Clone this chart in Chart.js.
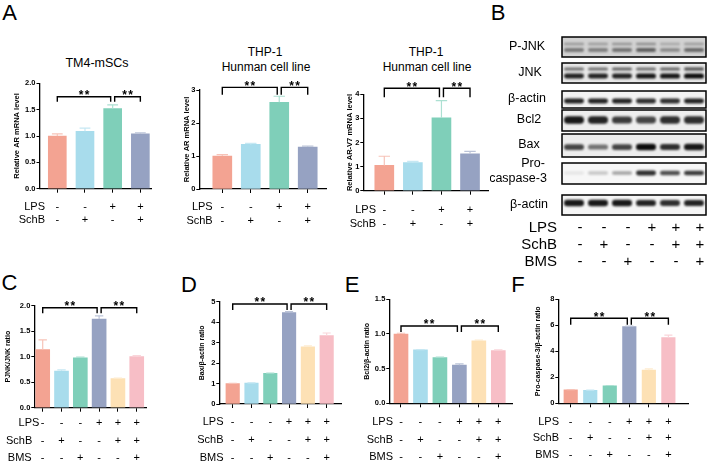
<!DOCTYPE html>
<html>
<head>
<meta charset="utf-8">
<script src="https://cdn.jsdelivr.net/npm/chart.js@4.4.1/dist/chart.umd.min.js"></script>
<style>
  body { margin: 0; width: 708px; height: 464px; background: #fff; position: relative; overflow: hidden;
         font-family: "Liberation Sans", Arial, sans-serif; color: #000; }
  canvas { position: absolute; }
  .txt { position: absolute; white-space: nowrap; line-height: 1; transform: translate(-50%, -50%); }
  .letter { font-size: 22px; }
</style>
</head>
<body>
<div class="txt letter" style="left:9.5px;top:13px">A</div>
<div class="txt letter" style="left:498px;top:13px">B</div>
<div class="txt letter" style="left:9.5px;top:283px">C</div>
<div class="txt letter" style="left:189px;top:285px">D</div>
<div class="txt letter" style="left:352px;top:285px">E</div>
<div class="txt letter" style="left:518px;top:285px">F</div>
<div class="txt" style="left:97px;top:63px;font-size:12.5px">TM4-mSCs</div>
<div class="txt" style="left:265px;top:52px;font-size:12px">THP-1</div>
<div class="txt" style="left:266px;top:67px;font-size:12px">Hunman cell line</div>
<div class="txt" style="left:426px;top:52px;font-size:12px">THP-1</div>
<div class="txt" style="left:427px;top:67px;font-size:12px">Hunman cell line</div>

<script>
const FONT = '"Liberation Sans", Arial, sans-serif';

// treatment rows
const lpsA = ['-', '-', '+', '+'];
const schbA = ['-', '+', '-', '+'];
const lps6 = ['-', '-', '-', '+', '+', '+'];
const schb6 = ['-', '+', '-', '-', '+', '+'];
const bms6 = ['-', '-', '+', '-', '-', '+'];

// panel A
const tm4Values = [1.0, 1.09, 1.52, 1.04];
const tm4Errors = [0.04, 0.06, 0.07, 0.02];
const tm4Ticks = [0, 0.5, 1.0, 1.5, 2.0];
const thpArValues = [1.0, 1.35, 2.63, 1.27];
const thpArErrors = [0.04, 0.03, 0.18, 0.03];
const thpArTicks = [0, 1, 2, 3];
const thpV7Values = [1.05, 1.17, 3.02, 1.53];
const thpV7Errors = [0.38, 0.05, 0.72, 0.10];
const thpV7Ticks = [0, 1, 2, 3, 4];

// panels C-F
const pjnkValues = [1.14, 0.72, 0.98, 1.74, 0.57, 1.0];
const pjnkErrors = [0.19, 0.02, 0.01, 0.06, 0.01, 0.02];
const pjnkTicks = [0, 0.5, 1.0, 1.5, 2.0];
const baxValues = [1.0, 1.02, 1.5, 4.47, 2.8, 3.35];
const baxErrors = [0.01, 0.01, 0.01, 0.05, 0.04, 0.12];
const baxTicks = [0, 1, 2, 3, 4, 5];
const bcl2Values = [1.0, 0.77, 0.66, 0.55, 0.9, 0.76];
const bcl2Errors = [0.01, 0.005, 0.005, 0.02, 0.01, 0.01];
const bcl2Ticks = [0, 0.5, 1.0, 1.5];
const procasValues = [1.03, 1.0, 1.35, 5.9, 2.55, 5.05];
const procasErrors = [0.02, 0.02, 0.02, 0.04, 0.1, 0.2];
const procasTicks = [0, 2, 4, 6, 8];

const colorsA = ['#f3a392', '#a8dcec', '#7fcfb9', '#96a2c2'];
const colors6 = ['#f3a392', '#a8dcec', '#7fcfb9', '#96a2c2', '#fde1b5', '#f7bec6'];

// panel B blot (band darkness per lane)
const blotLanes = [1, 2, 3, 4, 5, 6];
const blotNames = ['P-JNK', 'JNK', 'β-actin', 'Bcl2', 'Bax', 'Pro-|caspase-3', 'β-actin'];
const bandPJNK = [[0.3, 0.28, 0.32, 0.35, 0.22, 0.28], [0.45, 0.42, 0.48, 0.58, 0.38, 0.52]];
const bandJNK = [[0.55, 0.55, 0.6, 0.55, 0.6, 0.65], [0.9, 0.9, 0.9, 0.95, 0.95, 1.0]];
const bandActin1 = [[0.9, 0.9, 0.9, 0.85, 0.85, 0.9]];
const bandBcl2 = [[0.95, 0.9, 0.8, 0.75, 0.85, 0.85]];
const bandBax = [[0.75, 0.55, 0.75, 1.0, 0.85, 0.95]];
const bandProCasp = [[0.08, 0.2, 0.35, 0.85, 0.7, 0.8]];
const bandActin2 = [[0.95, 0.95, 0.95, 0.9, 0.85, 0.9]];
const blotDark = [bandPJNK, bandJNK, bandActin1, bandBcl2, bandBax, bandProCasp, bandActin2];

function errShade(hex) {
  const n = parseInt(hex.slice(1), 16);
  const m = c => Math.round(c + (255 - c) * 0.35);
  return `rgb(${m(n >> 16)},${m((n >> 8) & 255)},${m(n & 255)})`;
}

function annot(p) {
  return {
    id: 'annot',
    afterDraw(chart) {
      const { ctx, scales: { x, y } } = chart;
      const [bx, by] = p.box;
      const bars = chart.getDatasetMeta(0).data;
      ctx.save();
      // error whiskers
      ctx.lineWidth = 1.2;
      p.errors.forEach((e, i) => {
        const b = bars[i];
        const top = y.getPixelForValue(p.values[i] + e);
        const half = p.barW * 0.3;
        ctx.strokeStyle = errShade(p.colors[i]);
        ctx.beginPath();
        ctx.moveTo(b.x, b.y); ctx.lineTo(b.x, top);
        ctx.moveTo(b.x - half, top); ctx.lineTo(b.x + half, top);
        ctx.stroke();
      });
      // brackets + stars
      const sy = y.getPixelForValue(p.sigY);
      ctx.strokeStyle = '#000'; ctx.fillStyle = '#000'; ctx.lineWidth = 1.4;
      ctx.font = `bold 12px ${FONT}`;
      ctx.textAlign = 'center'; ctx.textBaseline = 'alphabetic';
      p.pairs.forEach(([a, c], k) => {
        let x1 = x.getPixelForValue(a), x2 = x.getPixelForValue(c);
        if (k === 0) x2 -= 2; else x1 += 2;
        ctx.beginPath();
        ctx.moveTo(x1, sy + p.drop); ctx.lineTo(x1, sy); ctx.lineTo(x2, sy); ctx.lineTo(x2, sy + p.drop);
        ctx.stroke();
        const mx = (x1 + x2) / 2;
        ctx.fillText('*', mx - 3, sy + 2.5);
        ctx.fillText('*', mx + 3, sy + 2.5);
      });
      // treatment rows
      ctx.font = `11px ${FONT}`; ctx.textBaseline = 'middle';
      p.rows.forEach(([name, signs], r) => {
        const ry = p.rowY[r] - by;
        ctx.textAlign = 'right';
        ctx.fillText(name, p.labelX[r] - bx, ry);
        ctx.textAlign = 'center';
        signs.forEach((s, i) => ctx.fillText(s, x.getPixelForValue(i + 1), ry));
      });
      ctx.restore();
    }
  };
}

function drawBarPanel(p) {
  const [bx, by, bw, bh] = p.box;
  const cv = document.createElement('canvas');
  cv.width = bw; cv.height = bh;
  cv.style.left = bx + 'px'; cv.style.top = by + 'px';
  document.body.appendChild(cv);
  const lh = p.titleSize * 1.2;
  const padLeft = p.titleX - bx - lh / 2;
  const yW = p.axisX - bx - padLeft;
  const xH = by + bh - p.y0;
  new Chart(cv, {
    type: 'bar',
    data: {
      datasets: [{
        data: p.values.map((v, i) => ({ x: i + 1, y: v })),
        backgroundColor: p.colors, borderWidth: 0, barThickness: p.barW
      }]
    },
    options: {
      responsive: false, animation: false, devicePixelRatio: 1,
      layout: { padding: { left: padLeft, top: p.yTop - by, right: bx + bw - p.xEnd, bottom: 0 } },
      plugins: { legend: { display: false }, tooltip: { enabled: false } },
      scales: {
        x: {
          type: 'linear', min: p.xMin, max: p.xMax, offset: false, z: 1,
          grid: { offset: false, drawOnChartArea: false, tickLength: 4, color: '#000', lineWidth: 1 },
          border: { color: '#000', width: 1.3 },
          ticks: { display: false },
          afterBuildTicks: s => { s.ticks = p.values.map((v, i) => ({ value: i + 1 })); },
          afterFit: s => { s.height = xH; }
        },
        y: {
          min: 0, max: p.ticks[p.ticks.length - 1], z: 1,
          grid: { drawOnChartArea: false, tickLength: 3, color: '#000', lineWidth: 1 },
          border: { color: '#000', width: 1.3 },
          ticks: { color: '#000', padding: 1, font: { size: 7.5, weight: 'bold', family: FONT },
                   callback: v => v.toFixed(p.dec) },
          afterBuildTicks: s => { s.ticks = p.ticks.map(v => ({ value: v })); },
          title: { display: true, text: p.yTitle, color: '#000', padding: 0,
                   font: { size: p.titleSize, weight: 'bold', family: FONT } },
          afterFit: s => { s.width = yW; }
        }
      }
    },
    plugins: [annot(p)]
  });
}

const pairsA = [[1, 3], [3, 4]];
const pairs6 = [[1, 4], [4, 6]];

[
  { values: tm4Values, errors: tm4Errors, ticks: tm4Ticks, dec: 1, colors: colorsA,
    yTitle: 'Relative AR mRNA level', titleSize: 7.5, sigY: 1.745, drop: 5, pairs: pairsA,
    rows: [['LPS', lpsA], ['SchB', schbA]], rowY: [206.7, 220], labelX: [45, 45],
    box: [0, 70, 165, 165], axisX: 39.5, xEnd: 151.7, yTop: 83.3, y0: 188.7,
    xMin: 0.357, xMax: 4.41, titleX: 16.7, barW: 18 },
  { values: thpArValues, errors: thpArErrors, ticks: thpArTicks, dec: 0, colors: colorsA,
    yTitle: 'Relative AR mRNA level', titleSize: 7.5, sigY: 3.08, drop: 7.5, pairs: pairsA,
    rows: [['LPS', lpsA], ['SchB', schbA]], rowY: [206.7, 221], labelX: [212.7, 212.7],
    box: [165, 70, 170, 165], axisX: 199.3, xEnd: 326.7, yTop: 90, y0: 189,
    xMin: 0.192, xMax: 4.667, titleX: 187.3, barW: 19 },
  { values: thpV7Values, errors: thpV7Errors, ticks: thpV7Ticks, dec: 0, colors: colorsA,
    yTitle: 'Relative AR-V7 mRNA level', titleSize: 7.5, sigY: 4.25, drop: 9, pairs: pairsA,
    rows: [['LPS', lpsA], ['SchB', schbA]], rowY: [210, 224], labelX: [376, 376],
    box: [335, 70, 160, 165], axisX: 363.3, xEnd: 488.3, yTop: 94.3, y0: 190.7,
    xMin: 0.265, xMax: 4.64, titleX: 349.7, barW: 19 },
  { values: pjnkValues, errors: pjnkErrors, ticks: pjnkTicks, dec: 1, colors: colors6,
    yTitle: 'PJNK/JNK ratio', titleSize: 7, sigY: 1.96, drop: 5.5, pairs: pairs6,
    rows: [['LPS', lps6], ['SchB', schb6], ['BMS', bms6]], rowY: [423.3, 441, 458.3], labelX: [39.3, 32.3, 31.7],
    box: [0, 290, 160, 174], axisX: 34.3, xEnd: 146.7, yTop: 305.7, y0: 407.7,
    xMin: 0.553, xMax: 6.53, titleX: 8.3, barW: 14 },
  { values: baxValues, errors: baxErrors, ticks: baxTicks, dec: 0, colors: colors6,
    yTitle: 'Bax/β-actin ratio', titleSize: 7, sigY: 4.89, drop: 6, pairs: pairs6,
    rows: [['LPS', lps6], ['SchB', schb6], ['BMS', bms6]], rowY: [421.7, 440, 458.3], labelX: [223.5, 223.5, 223.5],
    box: [165, 290, 180, 174], axisX: 219.3, xEnd: 341.7, yTop: 301.7, y0: 404,
    xMin: 0.287, xMax: 6.8, titleX: 201.7, barW: 13.5 },
  { values: bcl2Values, errors: bcl2Errors, ticks: bcl2Ticks, dec: 1, colors: colors6,
    yTitle: 'Bcl2/β-actin ratio', titleSize: 7, sigY: 1.115, drop: 6, pairs: pairs6,
    rows: [['LPS', lps6], ['SchB', schb6], ['BMS', bms6]], rowY: [421.7, 440, 456.7], labelX: [393, 393, 393],
    box: [345, 290, 172, 174], axisX: 389.3, xEnd: 512.7, yTop: 299.3, y0: 403.3,
    xMin: 0.399, xMax: 6.74, titleX: 367.3, barW: 14 },
  { values: procasValues, errors: procasErrors, ticks: procasTicks, dec: 0, colors: colors6,
    yTitle: 'Pro-caspase-3/β-actin ratio', titleSize: 7, sigY: 6.54, drop: 6.5, pairs: pairs6,
    rows: [['LPS', lps6], ['SchB', schb6], ['BMS', bms6]], rowY: [421.7, 438.3, 455], labelX: [559, 559, 559],
    box: [520, 290, 188, 174], axisX: 558.3, xEnd: 688.3, yTop: 299.3, y0: 403.3,
    xMin: 0.365, xMax: 7.02, titleX: 538.3, barW: 13.5 }
].forEach(drawBarPanel);

// ---- panel B: blot drawn on a lane scale ----
const blotLayout = [
  { frame: [37, 57], bg: '#d2d2d2', bands: [{ y: 44, h: 3 }, { y: 50, h: 4 }], labelY: [47], labelX: [527] },
  { frame: [63, 83], bg: '#e8e8e8', bands: [{ y: 69, h: 3 }, { y: 76, h: 4 }], labelY: [73], labelX: [530] },
  { frame: [91, 108], bg: '#f3f3f3', bands: [{ y: 101, h: 4 }], labelY: [99], labelX: [527] },
  { frame: [110, 131], bg: '#eeeeee', bands: [{ y: 120, h: 6 }], labelY: [120], labelX: [529] },
  { frame: [134, 157], bg: '#ededed', bands: [{ y: 147, h: 5 }], labelY: [145], labelX: [529] },
  { frame: [163, 184], bg: '#f7f7f7', bands: [{ y: 173, h: 4 }], labelY: [164, 179], labelX: [533, 518] },
  { frame: [195, 215], bg: '#f5f5f5', bands: [{ y: 203, h: 5 }], labelY: [205], labelX: [529] }
];
const B_OX = 490, B_OY = 30;

const blotPlugin = {
  id: 'blot',
  afterDraw(chart) {
    const { ctx, chartArea: { left, right }, scales: { x } } = chart;
    ctx.save();
    blotLayout.forEach((row, r) => {
      const t = row.frame[0] - B_OY, h = row.frame[1] - row.frame[0];
      ctx.fillStyle = row.bg;
      ctx.fillRect(left, t, right - left, h);
      ctx.save();
      ctx.beginPath(); ctx.rect(left, t, right - left, h); ctx.clip();
      ctx.filter = 'blur(1.1px)';
      row.bands.forEach((band, k) => {
        blotDark[r][k].forEach((d, i) => {
          const cx = x.getPixelForValue(blotLanes[i]);
          const bhh = band.h * (0.7 + 0.6 * d);
          ctx.fillStyle = `rgba(12,12,12,${d})`;
          ctx.beginPath();
          ctx.roundRect(cx - 10, band.y - B_OY - bhh / 2, 20, bhh, bhh / 2);
          ctx.fill();
        });
      });
      ctx.restore();
      ctx.strokeStyle = '#000'; ctx.lineWidth = 1.5;
      ctx.strokeRect(left, t, right - left, h);
      // row name
      ctx.fillStyle = '#000'; ctx.font = `12.5px ${FONT}`;
      ctx.textAlign = 'center'; ctx.textBaseline = 'middle';
      blotNames[r].split('|').forEach((s, j) => ctx.fillText(s, row.labelX[j] - B_OX, row.labelY[j] - B_OY));
    });
    // treatment rows
    ctx.font = `15px ${FONT}`;
    [['LPS', lps6, 228], ['SchB', schb6, 245], ['BMS', bms6, 262]].forEach(([name, signs, ry]) => {
      ctx.textAlign = 'right';
      ctx.fillText(name, 557 - B_OX, ry - B_OY);
      ctx.textAlign = 'center';
      signs.forEach((s, i) => ctx.fillText(s, x.getPixelForValue(blotLanes[i]) + 6, ry - B_OY));
    });
    ctx.restore();
  }
};

const blotCanvas = document.createElement('canvas');
blotCanvas.width = 218; blotCanvas.height = 242;
blotCanvas.style.left = B_OX + 'px'; blotCanvas.style.top = B_OY + 'px';
document.body.appendChild(blotCanvas);
new Chart(blotCanvas, {
  type: 'scatter',
  data: { datasets: [{ data: blotLanes.map(l => ({ x: l, y: 0 })), pointRadius: 0 }] },
  options: {
    responsive: false, animation: false, devicePixelRatio: 1,
    layout: { padding: { left: 562 - B_OX, right: 708 - 706, top: 37 - B_OY, bottom: 272 - 215 } },
    plugins: { legend: { display: false }, tooltip: { enabled: false } },
    scales: {
      x: { type: 'linear', min: 0.5, max: 6.5, display: false },
      y: { min: -1, max: 1, display: false }
    }
  },
  plugins: [blotPlugin]
});
</script>
</body>
</html>
